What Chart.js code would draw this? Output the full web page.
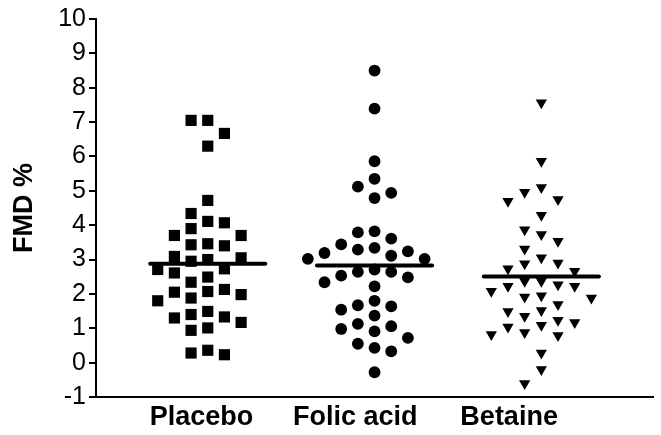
<!DOCTYPE html>
<html>
<head>
<meta charset="utf-8">
<script src="https://cdn.jsdelivr.net/npm/chart.js@4"></script>
<style>
  html, body { margin: 0; padding: 0; background: #fff; }
</style>
</head>
<body>
<canvas id="fmdChart" width="661" height="435"></canvas>
<script>
// Groups and FMD (%) values
const groups = ["Placebo", "Folic acid", "Betaine"];
const placebo = [7.05, 7.05, 6.67, 6.30, 4.72, 4.34, 4.11, 4.07, 3.90, 3.70, 3.70, 3.43, 3.40, 3.46,
    3.09, 3.05, 3.00, 2.95, 2.73, 2.71, 2.61, 2.49, 2.34, 2.13, 2.07, 2.05, 1.98, 1.88, 1.80,
    1.49, 1.40, 1.33, 1.30, 1.17, 1.01, 0.94, 0.36, 0.28, 0.23];
const folicAcid = [8.50, 7.39, 5.86, 5.35, 5.12, 4.94, 4.79, 3.82, 3.79, 3.61, 3.44, 3.34, 3.29,
    3.24, 3.19, 3.11, 3.02, 3.02, 2.71, 2.64, 2.64, 2.53, 2.48, 2.34, 2.22, 1.80, 1.67, 1.64,
    1.54, 1.37, 1.13, 1.06, 0.98, 0.91, 0.72, 0.55, 0.43, 0.33, -0.28];
const betaine = [7.56, 5.86, 5.10, 4.96, 4.75, 4.70, 4.29, 3.87, 3.73, 3.53, 3.31, 3.05, 2.90,
    2.88, 2.73, 2.66, 2.37, 2.37, 2.27, 2.22, 2.22, 2.08, 1.95, 1.91, 1.88, 1.69, 1.52, 1.49,
    1.35, 1.23, 1.17, 1.09, 1.04, 0.88, 0.82, 0.79, 0.28, -0.20, -0.61];
const yTicks = [-1, 0, 1, 2, 3, 4, 5, 6, 7, 8, 9, 10];

const groupValues = [placebo, folicAcid, betaine];
const markers = ["rect", "circle", "triangle"];
const markerRadius = [7.9, 5.9, 6.5];

// Spread points sideways (dot plot) so that markers in one column don't overlap
function swarm(values, center) {
    const step = 0.1, gap = 0.42;
    const order = values.map((v, i) => i).sort((a, b) => values[b] - values[a]);
    const cols = {};
    const pts = [];
    order.forEach(i => {
        const v = values[i];
        for (let k = 0; k < 30; k++) {
            const col = k === 0 ? 0 : (k % 2 ? -Math.ceil(k / 2) : Math.ceil(k / 2));
            const list = cols[col] || (cols[col] = []);
            if (list.every(u => Math.abs(u - v) >= gap)) {
                list.push(v);
                pts.push({ x: center + col * step, y: v });
                break;
            }
        }
    });
    return pts;
}

const mean = arr => arr.reduce((s, v) => s + v, 0) / arr.length;

const datasets = [];
groupValues.forEach((vals, g) => {
    datasets.push({
        type: "scatter",
        data: swarm(vals, g + 1),
        pointStyle: markers[g],
        pointRotation: markers[g] === "triangle" ? 180 : 0,
        pointRadius: markerRadius[g],
        pointHoverRadius: markerRadius[g],
        backgroundColor: "#000",
        borderColor: "#000",
        borderWidth: 0,
    });
});
groupValues.forEach((vals, g) => {
    const m = mean(vals);
    datasets.push({
        type: "line",
        data: [{ x: g + 1 - 0.345, y: m }, { x: g + 1 + 0.345, y: m }],
        borderColor: "#000",
        borderWidth: 4,
        borderCapStyle: "round",
        pointRadius: 0,
        fill: false,
    });
});

const font = "Liberation Sans, Arial, sans-serif";

const chart = new Chart(document.getElementById("fmdChart"), {
    type: "scatter",
    data: { datasets: datasets },
    options: {
        responsive: false,
        animation: false,
        devicePixelRatio: 1,
        layout: { padding: { top: 19, right: 0, bottom: 0, left: 0 } },
        plugins: { legend: { display: false }, tooltip: { enabled: false } },
        scales: {
            x: {
                type: "linear",
                min: 0.33,
                max: 3.67,
                weight: 0,
                afterFit: s => { s.height = 0; },
                ticks: { display: false },
                grid: { display: false, drawTicks: false },
                border: { display: true, color: "#000", width: 2 },
            },
            // group names sit on their own scale (slightly tighter spacing than the dots)
            xLabels: {
                type: "linear",
                position: "bottom",
                min: 0.314,
                max: 3.936,
                weight: 1,
                afterBuildTicks: s => { s.ticks = groups.map((c, i) => ({ value: i + 1 })); },
                afterFit: s => { s.height = 38; },
                ticks: {
                    callback: v => groups[v - 1],
                    color: "#000",
                    font: { family: font, size: 27, weight: "bold" },
                    padding: 4,
                    maxRotation: 0,
                    autoSkip: false,
                },
                grid: { display: false, drawTicks: false },
                border: { display: false },
            },
            y: {
                min: -1,
                max: 10,
                afterBuildTicks: s => { s.ticks = yTicks.map(v => ({ value: v })); },
                afterFit: s => { s.width = 96; },
                ticks: {
                    color: "#000",
                    font: { family: font, size: 25 },
                    padding: 3,
                },
                grid: { drawOnChartArea: false, drawTicks: true, tickLength: 7, color: "#000", lineWidth: 2 },
                border: { display: true, color: "#000", width: 2 },
                title: {
                    display: true,
                    text: "FMD %",
                    color: "#000",
                    font: { family: font, size: 27, weight: "bold" },
                    padding: { top: 8, bottom: 0 },
                },
            },
        },
    },
});
</script>
</body>
</html>
